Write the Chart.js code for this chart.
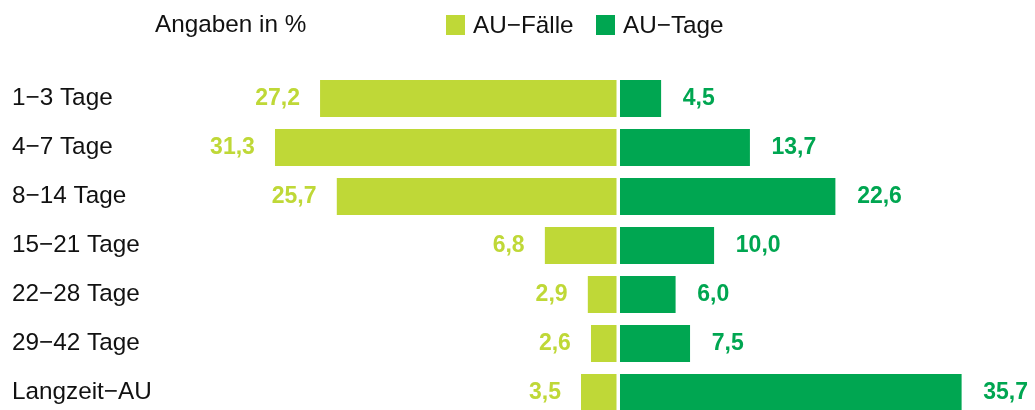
<!DOCTYPE html>
<html>
<head>
<meta charset="utf-8">
<script src="https://cdn.jsdelivr.net/npm/chart.js@4/dist/chart.umd.min.js"></script>
<style>
  html, body { margin: 0; padding: 0; background: #fff; overflow: hidden; }
  #wrap { width: 1035px; height: 420px; }
</style>
</head>
<body>
<div id="wrap"><canvas id="c" width="1035" height="420" style="width:1035px;height:420px"></canvas></div>
<script>
// ---- data ----
const categories = ["1\u22123 Tage", "4\u22127 Tage", "8\u221214 Tage", "15\u221221 Tage", "22\u221228 Tage", "29\u221242 Tage", "Langzeit\u2212AU"];
const auFaelle = [27.2, 31.3, 25.7, 6.8, 2.9, 2.6, 3.5];
const auTage = [4.5, 13.7, 22.6, 10.0, 6.0, 7.5, 35.7];
const seriesNames = ["AU\u2212F\u00e4lle", "AU\u2212Tage"];
const headerText = "Angaben in %";

const LIME = "#BFD837";
const GREEN = "#00A651";
const FONT = "'Liberation Sans', Arial, Helvetica, sans-serif";

function fmt(v) { return v.toFixed(1).replace('.', ','); }

const labelPlugin = {
  id: 'labels',
  afterDatasetsDraw(chart) {
    const ctx = chart.ctx;
    ctx.save();
    // header text + legend
    ctx.textBaseline = 'alphabetic';
    ctx.fillStyle = '#111';
    ctx.font = "24.3px " + FONT;
    ctx.textAlign = 'left';
    ctx.fillText(headerText, 155, 32);
    const legendItems = [
      { x: 446, color: LIME, text: seriesNames[0] },
      { x: 596, color: GREEN, text: seriesNames[1] }
    ];
    legendItems.forEach(it => {
      ctx.fillStyle = it.color;
      ctx.fillRect(it.x, 15, 19, 20);
      ctx.fillStyle = '#111';
      ctx.fillText(it.text, it.x + 27, 33);
    });
    // category labels
    const yScale = chart.scales.y;
    categories.forEach((c, i) => {
      const y = yScale.getPixelForValue(i);
      ctx.fillStyle = '#111';
      ctx.font = "24.3px " + FONT;
      ctx.textAlign = 'left';
      ctx.fillText(c, 12, y + 6.5);
    });
    // value labels
    ctx.font = "bold 23px " + FONT;
    const m0 = chart.getDatasetMeta(0);
    m0.data.forEach((bar, i) => {
      ctx.fillStyle = LIME;
      ctx.textAlign = 'right';
      ctx.fillText(fmt(auFaelle[i]), bar.x - 20, bar.y + 6.5);
    });
    const m1 = chart.getDatasetMeta(1);
    m1.data.forEach((bar, i) => {
      ctx.fillStyle = GREEN;
      ctx.textAlign = 'left';
      ctx.fillText(fmt(auTage[i]), bar.x + 21.5, bar.y + 6.5);
    });
    ctx.restore();
  }
};

new Chart(document.getElementById('c'), {
  type: 'bar',
  data: {
    labels: categories,
    datasets: [
      {
        label: seriesNames[0],
        data: auFaelle,
        xAxisID: 'xL',
        backgroundColor: LIME,
        borderColor: '#ffffff',
        borderWidth: { top: 0, right: 3, bottom: 0, left: 0 },
        borderSkipped: false,
        grouped: false,
        barPercentage: 37 / 49,
        categoryPercentage: 1
      },
      {
        label: seriesNames[1],
        data: auTage,
        xAxisID: 'xR',
        backgroundColor: GREEN,
        borderColor: '#ffffff',
        borderWidth: { top: 0, right: 0, bottom: 0, left: 2 },
        borderSkipped: false,
        grouped: false,
        barPercentage: 37 / 49,
        categoryPercentage: 1
      }
    ]
  },
  options: {
    indexAxis: 'y',
    responsive: false,
    animation: false,
    devicePixelRatio: 1,
    layout: { padding: { top: 74, bottom: 3, left: 0, right: 0 } },
    plugins: { legend: { display: false }, tooltip: { enabled: false } },
    scales: {
      y: { type: 'category', display: false, offset: true, grid: { display: false } },
      xL: { type: 'linear', display: false, reverse: true, min: -37.738, max: 56.267, grid: { display: false } },
      xR: { type: 'linear', display: false, min: -64.174, max: 43.303, grid: { display: false } }
    }
  },
  plugins: [labelPlugin]
});
</script>
</body>
</html>
